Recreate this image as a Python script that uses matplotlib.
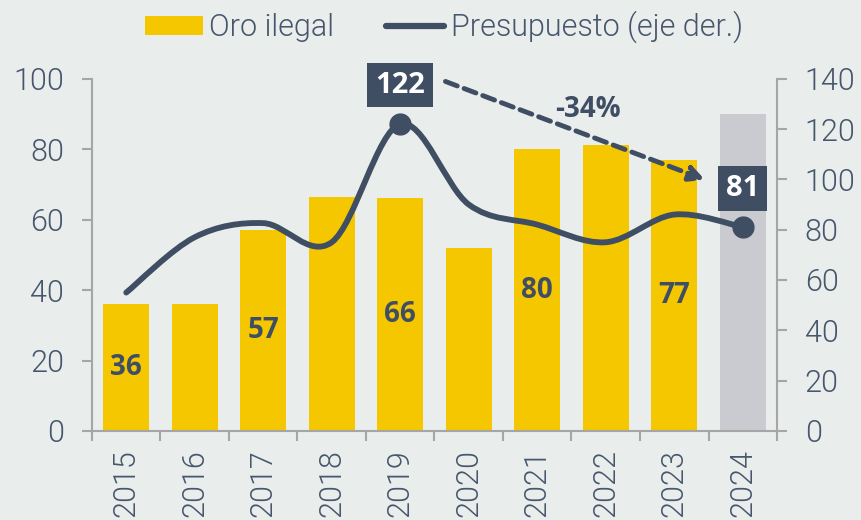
import matplotlib
matplotlib.use("Agg")
import matplotlib.pyplot as plt
import numpy as np
from matplotlib.path import Path
from matplotlib.patches import PathPatch, Patch
from matplotlib.lines import Line2D

years = ["2015", "2016", "2017", "2018", "2019", "2020", "2021", "2022", "2023", "2024"]
oro_ilegal = [36, 36, 57, 66.4, 66, 52, 80, 81.3, 77, 90]
presupuesto = [55, 77, 82.6, 75, 122, 90, 82, 75, 86, 81]
bar_labels_idx = [0, 2, 4, 6, 8]
highlight_idx = [4, 9]
change_label = "-34%"
left_ticks = [0, 20, 40, 60, 80, 100]
right_ticks = [0, 20, 40, 60, 80, 100, 120, 140]

BG = "#e9edec"
YELLOW = "#f5c700"
GREY_BAR = "#c9cbd0"
DARK = "#3f4e63"
TXT = "#46566c"
SPINE = "#a6a6a6"

plt.rcParams["font.family"] = ["Open Sans", "DejaVu Sans"]
LIGHT = dict(family=["Roboto", "DejaVu Sans"], weight=300)

fig = plt.figure(figsize=(8.62, 5.2), dpi=100, facecolor=BG)
ax = fig.add_axes([0.1067, 0.1712, 0.7947, 0.6775])
ax.set_facecolor(BG)
ax2 = ax.twinx()

x = np.arange(len(years))
colors = [YELLOW] * (len(years) - 1) + [GREY_BAR]
ax.bar(x, oro_ilegal, width=0.67, color=colors, zorder=2)

for i in bar_labels_idx:
    ax.text(x[i], oro_ilegal[i] / 2, f"{round(oro_ilegal[i])}", ha="center", va="center",
            fontsize=20, fontweight="bold", color=DARK, zorder=3)

ax.set_xlim(-0.5, len(years) - 0.5)
ax.set_ylim(0, 100)
ax2.set_ylim(0, 140)
ax.set_yticks(left_ticks)
ax2.set_yticks(right_ticks)

ax.set_xticks(x)
ax.set_xticklabels(years, rotation=90)
ax.set_xticks(np.arange(-0.5, len(years) + 0.5, 1), minor=True)
ax.tick_params(axis="x", which="major", length=0, pad=13, labelsize=22, labelcolor=TXT)
ax.tick_params(axis="x", which="minor", length=7, width=1.5, color=SPINE)
ax.tick_params(axis="y", length=7, width=1.5, color=SPINE, pad=13, labelsize=22, labelcolor=TXT)
ax2.tick_params(axis="y", length=7, width=1.5, color=SPINE, pad=13, labelsize=22, labelcolor=TXT)

for a in (ax, ax2):
    for lbl in a.get_yticklabels() + a.get_xticklabels():
        lbl.set_fontfamily(LIGHT["family"])
        lbl.set_fontweight(LIGHT["weight"])
    a.spines["top"].set_visible(False)
    for s in ("left", "right", "bottom"):
        a.spines[s].set_color(SPINE)
        a.spines[s].set_linewidth(1.5)
ax.spines["right"].set_visible(False)
ax2.spines["left"].set_visible(False)
ax2.spines["bottom"].set_visible(False)

# Smooth line (Catmull-Rom through the data points)
P = np.column_stack([x, presupuesto]).astype(float)
n = len(P)
verts = [tuple(P[0])]
codes = [Path.MOVETO]
for i in range(n - 1):
    p0 = P[i - 1] if i > 0 else P[i]
    p1 = P[i]
    p2 = P[i + 1]
    p3 = P[i + 2] if i + 2 < n else P[i + 1]
    c1 = p1 + (p2 - p0) / 6.0
    c2 = p2 - (p3 - p1) / 6.0
    verts += [tuple(c1), tuple(c2), tuple(p2)]
    codes += [Path.CURVE4] * 3
ax2.add_patch(PathPatch(Path(verts, codes), facecolor="none", edgecolor=DARK,
                        linewidth=4.2, capstyle="round", joinstyle="round", zorder=4))

for i in highlight_idx:
    ax2.plot(x[i], presupuesto[i], "o", color=DARK, markersize=15, zorder=5)
    ax2.annotate(f"{round(presupuesto[i])}", xy=(x[i], presupuesto[i]), xytext=(0, 28),
                 textcoords="offset points", ha="center", va="center",
                 fontsize=21, fontweight="bold", color="white", zorder=6,
                 bbox=dict(boxstyle="square,pad=0.27", facecolor=DARK, edgecolor="none"),
                 annotation_clip=False)

# dashed arrow
ax2.annotate("", xy=(8.45, 99.8), xytext=(4.66, 138.9),
             arrowprops=dict(arrowstyle="-|>,head_length=0.9,head_width=0.45",
                             linestyle=(0, (2.6, 1.5)), linewidth=3.5, color=DARK,
                             shrinkA=0, shrinkB=0),
             annotation_clip=False, zorder=6)
ax2.text(6.74, 127.6, change_label, ha="center", va="center", fontsize=20,
         fontweight="bold", color=DARK, zorder=6)

handles = [Patch(facecolor=YELLOW, edgecolor="none"),
           Line2D([0], [0], color=DARK, linewidth=4.5, solid_capstyle="round")]
leg = fig.legend(handles, ["Oro ilegal", "Presupuesto (eje der.)"], loc="center",
                 bbox_to_anchor=(0.515, 0.948), ncol=2, frameon=False,
                 prop=dict(family=LIGHT["family"], weight=LIGHT["weight"], size=22),
                 handlelength=1.9, handleheight=0.6, handletextpad=0.2,
                 columnspacing=1.7, labelcolor=TXT)

fig.savefig("out.png", dpi=100, facecolor=BG)
